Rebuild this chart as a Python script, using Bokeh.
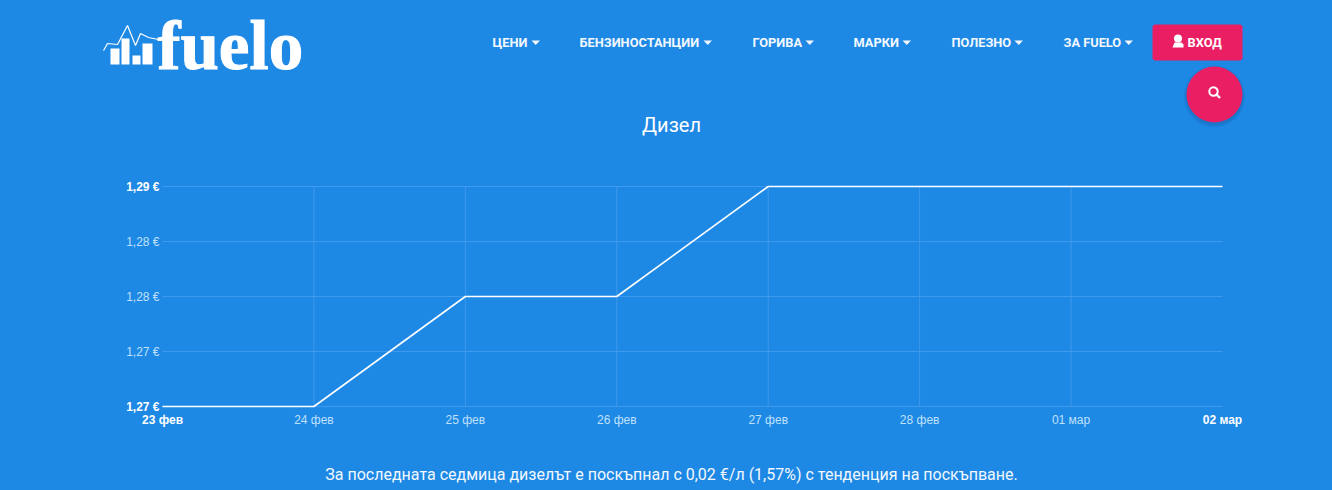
from bokeh.core.properties import value
from bokeh.embed import file_html
from bokeh.models import FixedTicker, LinearAxis, Range1d
from bokeh.plotting import figure
from bokeh.resources import INLINE

dates = ["23 фев", "24 фев", "25 фев", "26 фев", "27 фев", "28 фев", "01 мар", "02 мар"]
prices = [1.27, 1.27, 1.28, 1.28, 1.29, 1.29, 1.29, 1.29]
price_ticks = [1.27, 1.275, 1.28, 1.285, 1.29]
price_labels = ["1,27 €", "1,27 €", "1,28 €", "1,28 €", "1,29 €"]
title_text = "Дизел"
footer_text = "За последната седмица дизелът е поскъпнал с 0,02 €/л (1,57%) с тенденция на поскъпване."
nav_items = ["ЦЕНИ", "БЕНЗИНОСТАНЦИИ", "ГОРИВА", "МАРКИ", "ПОЛЕЗНО", "ЗА FUELO"]

BG = "#1e88e5"
PINK = "#e91e63"
SOFT = "#bfe1fb"
GRID = "#3f99ec"
W, H = 1332, 490
LEFT, RIGHT, TOP, BOTTOM = 162, 1222, 186, 406  # where the chart's area lies on the page

xs = list(range(len(dates)))
x_per_px = (xs[-1] - xs[0]) / (RIGHT - LEFT)
y_per_px = (price_ticks[-1] - price_ticks[0]) / (BOTTOM - TOP)

# The frame fills the page; the chart's ranges are extended so that its area lands where it should.
p = figure(width=W, height=H,
           x_range=Range1d(xs[0] - LEFT * x_per_px, xs[-1] + (W - RIGHT) * x_per_px),
           y_range=Range1d(price_ticks[0] - (H - BOTTOM) * y_per_px, price_ticks[-1] + TOP * y_per_px),
           output_backend="svg", toolbar_location=None, min_border=0,
           min_border_left=0, min_border_right=0, min_border_top=0, min_border_bottom=0,
           background_fill_color=BG, border_fill_color=BG, outline_line_color=None)
p.extra_x_ranges["page"] = Range1d(0, W)
p.extra_y_ranges["page"] = Range1d(H, 0)
p.xaxis.visible = False
p.yaxis.visible = False
p.grid.visible = False
PAGE = dict(x_range_name="page", y_range_name="page")


def style_axis(ax, color, bold):
    ax.axis_line_color = None
    ax.major_tick_line_color = None
    ax.minor_tick_line_color = None
    ax.major_tick_out = 0
    ax.major_tick_in = 0
    ax.major_label_text_color = color
    ax.major_label_text_font = "Liberation Sans"
    ax.major_label_text_font_size = "12px"
    ax.major_label_text_font_style = "bold" if bold else "normal"


xa = LinearAxis(ticker=FixedTicker(ticks=xs[1:-1]), fixed_location=price_ticks[0],
                major_label_overrides={x: dates[x] for x in xs[1:-1]}, major_label_standoff=6)
xb = LinearAxis(ticker=FixedTicker(ticks=[xs[0], xs[-1]]), fixed_location=price_ticks[0],
                major_label_overrides={x: dates[x] for x in (xs[0], xs[-1])}, major_label_standoff=6)
ya = LinearAxis(ticker=FixedTicker(ticks=price_ticks[1:-1]), fixed_location=xs[0],
                major_label_overrides=dict(zip(price_ticks[1:-1], price_labels[1:-1])), major_label_standoff=3)
yb = LinearAxis(ticker=FixedTicker(ticks=[price_ticks[0], price_ticks[-1]]), fixed_location=xs[0],
                major_label_overrides={price_ticks[0]: price_labels[0], price_ticks[-1]: price_labels[-1]},
                major_label_standoff=3)
for ax, c, b in ((xa, SOFT, False), (xb, "white", True), (ya, SOFT, False), (yb, "white", True)):
    style_axis(ax, c, b)
p.add_layout(xa, "below")
p.add_layout(xb, "below")
p.add_layout(ya, "left")
p.add_layout(yb, "left")

# grid lines stop at the chart's area, so they are drawn from the ticks
p.segment(xs[1:-1], [price_ticks[0]] * (len(xs) - 2), xs[1:-1], [price_ticks[-1]] * (len(xs) - 2),
          line_color=GRID, line_width=1)
p.segment([xs[0]] * len(price_ticks), price_ticks, [xs[-1]] * len(price_ticks), price_ticks,
          line_color=GRID, line_width=1)

p.line(xs, prices, line_color="white", line_width=1.6)

# ---------- logo ----------
p.quad(left=[110, 121, 132, 142], right=[119, 129, 140, 152], top=[48, 38, 55, 43],
       bottom=[64, 64, 64, 64], fill_color="white", line_color=None, **PAGE)
p.line([103, 107, 117, 127, 135, 140, 148, 158], [50, 43, 44, 25, 45, 33, 37, 39],
       line_color="white", line_width=1.2, **PAGE)
p.text([157], [45], text=["fuelo"], text_font=value("Liberation Serif"), text_font_size="69px",
       text_font_style="bold", text_color="white", text_baseline="middle",
       text_outline_color="white", **PAGE)

# ---------- navigation ----------
nav_x = [492, 579, 752, 853, 951, 1063]
caret_x = [531, 703, 805, 902, 1014, 1124]
NAV = "#f2f8fe"
p.text(nav_x, [42] * 6, text=nav_items, text_font=value("Roboto"), text_font_size="12.8px",
       text_font_style="bold", text_color=NAV, text_baseline="middle", **PAGE)
p.patches([[c, c + 8.5, c + 4.25] for c in caret_x], [[40, 40, 44.5]] * 6,
          fill_color=NAV, line_color=None, **PAGE)

# ---------- login button ----------
p.patch([1154, 1240, 1242, 1242, 1240, 1154, 1152, 1152], [24, 24, 26, 58, 60, 60, 58, 26],
        fill_color=PINK, line_color=None, **PAGE)
p.circle([1177.5], [38], radius=4, fill_color="white", line_color=None, **PAGE)
p.patch([1172, 1174, 1181, 1183, 1183, 1172], [47, 42, 42, 44, 47, 47],
        fill_color="white", line_color=None, **PAGE)
p.text([1187], [42], text=["ВХОД"], text_font=value("Roboto"), text_font_size="12.8px",
       text_font_style="bold", text_color="white", text_baseline="middle", **PAGE)

# ---------- search button with a soft shadow ----------
for r, alpha in ((31, 0.05), (30, 0.07), (29, 0.1)):
    p.circle([1214], [96], radius=r, fill_color="#0b3d70", fill_alpha=alpha, line_color=None, **PAGE)
p.circle([1214], [94], radius=28, fill_color=PINK, line_color=None, **PAGE)
p.circle([1213], [91], radius=4.2, fill_color=None, line_color="white", line_width=2, **PAGE)
p.line([1216, 1219.5], [94, 97.5], line_color="white", line_width=2.4, **PAGE)

# ---------- title and footer ----------
p.text([671], [124], text=[title_text], text_font=value("Roboto"), text_font_size="20px",
       text_color="white", text_align="center", text_baseline="middle", **PAGE)
p.text([671], [474], text=[footer_text], text_font=value("Roboto"), text_font_size="16px",
       text_color=NAV, text_align="center", text_baseline="middle", **PAGE)

html = file_html(p, INLINE)
html = html.replace("</head>", f"<style>html,body{{background:{BG}}}</style></head>", 1)
open("out.html", "w").write(html)
